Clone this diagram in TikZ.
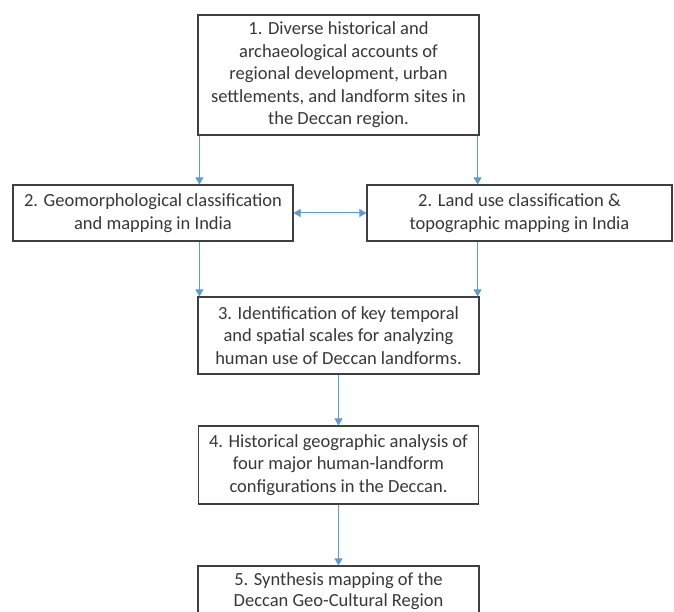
\documentclass[tikz,border=0pt]{standalone}
\usepackage{fontspec}
\setmainfont{Carlito}
\usetikzlibrary{arrows.meta}
\definecolor{boxline}{HTML}{3F3F3F}
\definecolor{txt}{HTML}{383838}
\definecolor{arrblue}{HTML}{5B9BD5}
\tikzset{
  stepbox/.style={draw=boxline, line width=1.2pt, fill=white, inner sep=0pt,
    align=center, text=txt, font=\fontsize{18.5}{22.5}\selectfont},
  arr/.style={draw=arrblue, line width=1pt, -{Triangle[width=8pt,length=7pt]}},
  dblarr/.style={draw=arrblue, line width=1pt, {Triangle[width=8pt,length=7pt]}-{Triangle[width=8pt,length=7pt]}}
}
\begin{document}
\begin{tikzpicture}[x=1pt,y=-1pt]
\clip (0,0) rectangle (674,612);
\fill[white] (0,0) rectangle (674,612);
\node[stepbox, minimum width=281pt, minimum height=120pt] (b1) at (338.5,75)
  {1. Diverse historical and\\archaeological accounts of\\regional development, urban\\settlements, and landform sites in\\the Deccan region.};
\node[stepbox, minimum width=280pt, minimum height=56pt] (b2l) at (153,213)
  {2. Geomorphological classification\\and mapping in India};
\node[stepbox, minimum width=305pt, minimum height=56pt] (b2r) at (519.5,213)
  {2. Land use classification \&\\topographic mapping in India};
\node[stepbox, minimum width=281pt, minimum height=77pt] (b3) at (338.5,335.5)
  {3. Identification of key temporal\\and spatial scales for analyzing\\human use of Deccan landforms.};
\node[stepbox, minimum width=280pt, minimum height=78pt] (b4) at (338.5,465)
  {4. Historical geographic analysis of\\four major human-landform\\configurations in the Deccan.};
\node[stepbox, minimum width=281pt, minimum height=50pt, font=\fontsize{18.5}{21}\selectfont] (b5) at (338.5,591)
  {5. Synthesis mapping of the\\Deccan Geo-Cultural Region};
\coordinate (la) at ([xshift=2pt]b1.south west);
\coordinate (ra) at ([xshift=-2pt]b1.south east);
\draw[arr] (la) -- (la |- b2l.north);
\draw[arr] (ra) -- (ra |- b2r.north);
\draw[arr] (la |- b2l.south) -- (la |- b3.north);
\draw[arr] (ra |- b2r.south) -- (ra |- b3.north);
\draw[dblarr] (b2l.east) -- (b2r.west);
\draw[arr] (b3.south) -- (b4.north);
\draw[arr] (b4.south) -- (b5.north);
\end{tikzpicture}
\end{document}
